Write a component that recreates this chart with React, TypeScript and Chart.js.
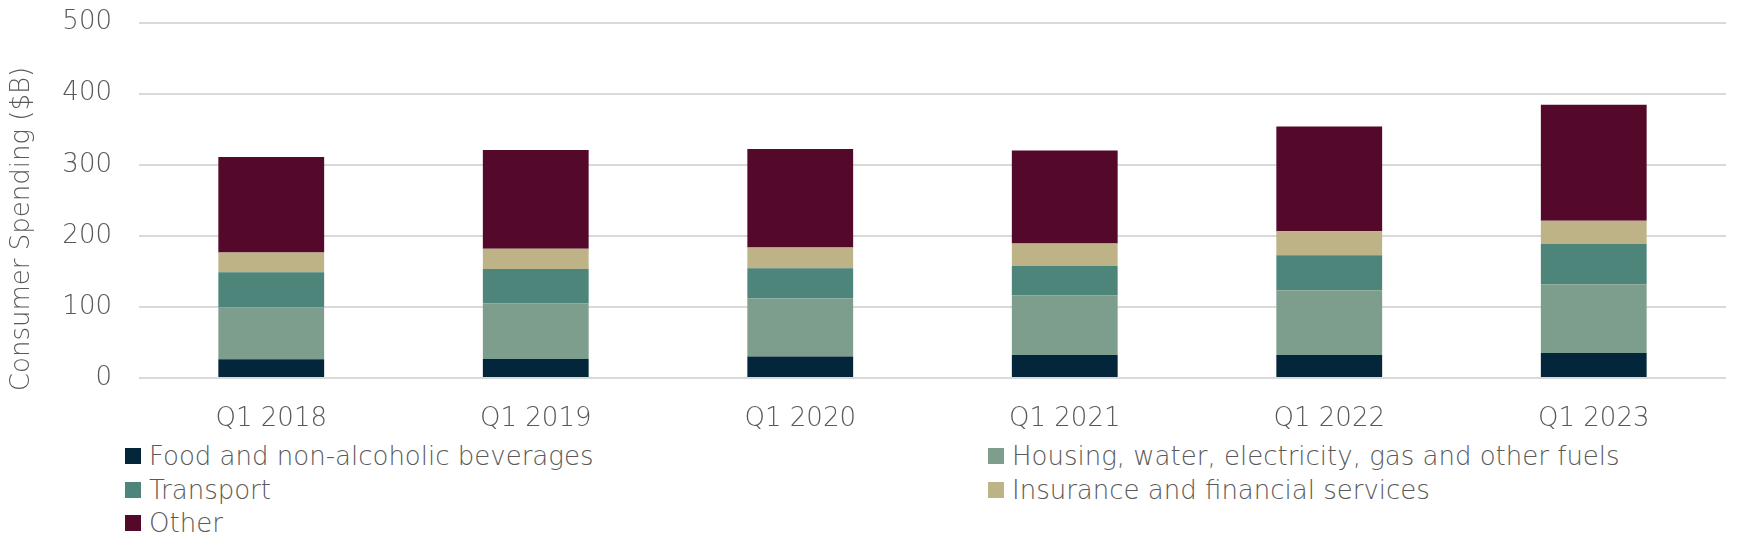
import React, { useEffect, useRef } from 'react';
import { Chart, registerables } from 'chart.js';

Chart.register(...registerables);

const categories = ['Q1 2018', 'Q1 2019', 'Q1 2020', 'Q1 2021', 'Q1 2022', 'Q1 2023'];
const food = [26.3, 26.7, 30.1, 32.4, 32.4, 35.2];
const housing = [73.2, 78.4, 81.6, 83.9, 91.0, 96.6];
const transport = [49.2, 48.3, 42.6, 41.3, 49.2, 56.7];
const insurance = [27.7, 28.6, 29.2, 31.5, 33.8, 32.9];
const other = [134.5, 138.8, 138.7, 130.8, 147.3, 163.2];
const yTickValues = [0, 100, 200, 300, 400, 500];

const seriesNames = [
  'Food and non-alcoholic beverages',
  'Housing, water, electricity, gas and other fuels',
  'Transport',
  'Insurance and financial services',
  'Other',
];
const seriesColors = ['#04263A', '#7D9E8D', '#4D857B', '#BDB386', '#54092B'];
const seriesValues = [food, housing, transport, insurance, other];
const yTitle = 'Consumer Spending ($B)';

const FONT = '"DejaVu Sans", sans-serif';
const WEIGHT = 200;
const TEXT_COLOR = '#595959';

const CANVAS_TOP = -28;
const CANVAS_H = 458;

const yTitlePlugin = {
  id: 'yTitleCustom',
  afterDraw(chart: any) {
    const { ctx } = chart;
    ctx.save();
    ctx.translate(14, 229 - 8 - CANVAS_TOP);
    ctx.rotate(-Math.PI / 2);
    ctx.font = `${WEIGHT} 26px ${FONT}`;
    ctx.fillStyle = TEXT_COLOR;
    ctx.textAlign = 'center';
    ctx.textBaseline = 'middle';
    ctx.fillText(yTitle, 0, 0);
    ctx.restore();
  },
};

export default function App() {
  const canvasRef = useRef<HTMLCanvasElement | null>(null);

  useEffect(() => {
    if (!canvasRef.current) return;
    const chart = new Chart(canvasRef.current, {
      type: 'bar',
      data: {
        labels: categories,
        datasets: seriesValues.map((vals, i) => ({
          label: seriesNames[i],
          data: vals,
          backgroundColor: seriesColors[i],
          borderWidth: 0,
          categoryPercentage: 0.8,
          barPercentage: 0.5,
        })),
      },
      options: {
        animation: false,
        responsive: false,
        maintainAspectRatio: false,
        devicePixelRatio: 1,
        layout: { padding: { top: 0, right: 6, bottom: 0, left: 0 } },
        plugins: {
          legend: { display: false },
          tooltip: { enabled: false },
          title: { display: false },
        },
        scales: {
          x: {
            stacked: true,
            grid: { display: false, drawTicks: false },
            border: { display: false },
            ticks: {
              color: TEXT_COLOR,
              font: { family: FONT, size: 26, weight: WEIGHT as any },
              padding: 26,
              maxRotation: 0,
            },
            afterFit: (scale: any) => {
              scale.height = 60;
            },
          },
          y: {
            stacked: true,
            min: 0,
            max: 500,
            afterBuildTicks: (scale: any) => {
              scale.ticks = yTickValues.map((v) => ({ value: v }));
            },
            grid: { color: '#D9D9D9', lineWidth: 2, drawTicks: false },
            border: { display: false },
            ticks: {
              color: TEXT_COLOR,
              font: { family: FONT, size: 26, weight: WEIGHT as any },
              padding: 27,
            },
            afterFit: (scale: any) => {
              scale.width = 131;
            },
          },
        },
      },
      plugins: [yTitlePlugin],
    });
    return () => chart.destroy();
  }, []);

  const legendRows = [
    [0, 1],
    [2, 3],
    [4],
  ];

  return (
    <div style={{ position: 'relative', width: 1724, height: 542, fontFamily: FONT }}>
      <canvas
        ref={canvasRef}
        width={1724}
        height={CANVAS_H}
        style={{ position: 'absolute', left: 0, top: CANVAS_TOP, width: 1724, height: CANVAS_H }}
      />
      {legendRows.map((row, r) =>
        row.map((idx, c) => (
          <div
            key={idx}
            style={{
              position: 'absolute',
              left: c === 0 ? 117 : 980,
              top: 448 + r * 33.5 - 17,
              height: 34,
              display: 'flex',
              alignItems: 'center',
              whiteSpace: 'nowrap',
              fontSize: 26,
              fontWeight: WEIGHT,
              color: TEXT_COLOR,
            }}
          >
            <span
              style={{
                display: 'inline-block',
                width: 16,
                height: 16,
                background: seriesColors[idx],
                marginRight: 8,
              }}
            />
            <span>{seriesNames[idx]}</span>
          </div>
        ))
      )}
    </div>
  );
}
